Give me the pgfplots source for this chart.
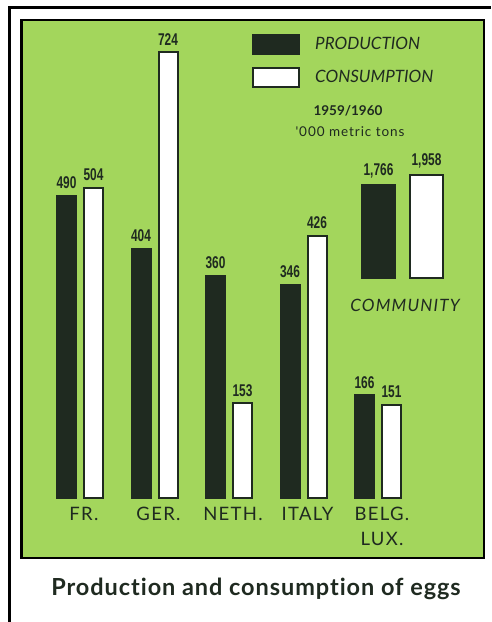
\documentclass[border=0pt]{standalone}
\usepackage{fontspec}
\setmainfont{Lato}
\newfontfamily\numfont[FakeStretch=0.7]{Liberation Sans}
\newfontfamily\spacedfont[LetterSpace=7]{Lato}
\newfontfamily\titlefont[LetterSpace=4,Ligatures={NoCommon,NoRare}]{Lato}
\usepackage{pgfplots}
\pgfplotsset{compat=1.18}
\definecolor{panelgreen}{HTML}{A3D65C}
\definecolor{darkbar}{HTML}{1F2A20}
\begin{document}
\begin{tikzpicture}
\useasboundingbox (0pt,0pt) rectangle (491pt,622pt);
\fill[white] (0pt,0pt) rectangle (491pt,622pt);
% outer frame
\draw[line width=2.5pt,black] (9.5pt,0pt) -- (9.5pt,614.5pt) -- (491pt,614.5pt);
% green panel
\draw[line width=2.5pt,black,fill=panelgreen] (21.7pt,64pt) rectangle (484pt,602pt);

\begin{axis}[
  at={(42.75pt,124.5pt)}, anchor=south west,
  scale only axis, width=372.5pt, height=461.25pt,
  xmin=-0.5, xmax=4.5, ymin=0, ymax=750,
  ybar, bar width=19pt,
  clip=false,
  axis line style={draw=none}, tick style={draw=none},
  ytick=\empty,
  xtick={0,1,2,3,4},
  xticklabels={FR.,GER.,NETH.,ITALY,{BELG.\\LUX.}},
  xticklabel style={font=\spacedfont\fontsize{18.5}{25}\selectfont, text=darkbar, align=center, anchor=north, yshift=-2pt, xshift=4pt},
  nodes near coords,
  every node near coord/.append style={font=\numfont\bfseries\fontsize{17}{19}\selectfont, text=darkbar, inner sep=1pt, yshift=5pt},
  /pgf/number format/assume math mode=true,
  legend style={at={(axis cs:2.309,754)}, anchor=north west, draw=none, fill=none,
    inner sep=0pt, font=\itshape\fontsize{17}{20}\selectfont, text=darkbar, legend cell align=left,
    row sep=12pt, /tikz/every odd column/.style={column sep=13pt}},
  legend image code/.code={\draw[#1] (0pt,-9.5pt) rectangle (46pt,9.5pt);},
]
\addplot[fill=darkbar, draw=darkbar, line width=2pt, bar shift=-13.5pt] coordinates {(0,490) (1,404) (2,360) (3,346) (4,166)};
\addlegendentry{PRODUCTION}
\addplot[fill=white, draw=darkbar, line width=2pt, bar shift=13.5pt] coordinates {(0,504) (1,724) (2,153) (3,426) (4,151)};
\addlegendentry{CONSUMPTION}
\end{axis}

\begin{axis}[
  at={(352.5pt,343.5pt)}, anchor=south west,
  scale only axis, width=100pt, height=116.6pt,
  xmin=-1, xmax=1, ymin=0, ymax=2200,
  ybar, bar width=33.5pt,
  clip=false,
  axis line style={draw=none}, tick style={draw=none},
  ytick=\empty, xtick=\empty,
  nodes near coords,
  every node near coord/.append style={font=\numfont\bfseries\fontsize{17}{19}\selectfont, text=darkbar, inner sep=1pt, yshift=5pt},
  /pgf/number format/assume math mode=true,
  /pgf/number format/1000 sep={,},
]
\addplot[fill=darkbar, draw=darkbar, line width=2pt, bar shift=-24pt] coordinates {(0,1766)};
\addplot[fill=white, draw=darkbar, line width=2pt, bar shift=24pt] coordinates {(0,1958)};
\end{axis}

\node[font=\bfseries\fontsize{13.5}{16}\selectfont, text=darkbar] at (348pt,511pt) {1959/1960};
\node[font=\spacedfont\fontsize{13.5}{16}\selectfont, text=darkbar] at (350pt,490pt) {'000 metric tons};
\node[font=\spacedfont\itshape\fontsize{17}{20}\selectfont, text=darkbar] at (405pt,316.3pt) {COMMUNITY};
\node[font=\titlefont\bfseries\fontsize{23.5}{27}\selectfont, text=darkbar] at (256pt,33pt) {Production and consumption of eggs};
\end{tikzpicture}
\end{document}
